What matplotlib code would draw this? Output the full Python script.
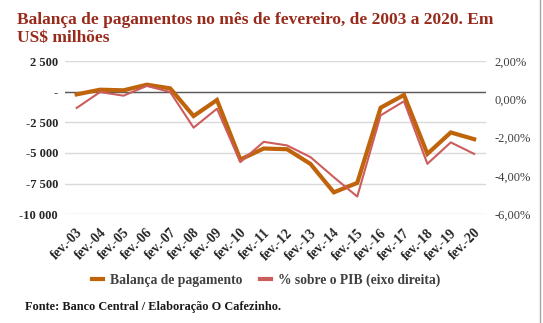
import matplotlib.pyplot as plt
import matplotlib.transforms as mtransforms
from matplotlib.ticker import FuncFormatter

# Data
labels = ['fev.-%02d' % y for y in range(3, 21)]
balanca = [-220, 160, 110, 570, 270, -1990, -680, -5540, -4640, -4700,
           -5900, -8220, -7450, -1310, -270, -5080, -3330, -3880]
pct_pib = [-0.45, 0.38, 0.19, 0.70, 0.38, -1.48, -0.49, -3.28, -2.22, -2.41,
           -3.02, -4.07, -5.08, -0.84, -0.10, -3.37, -2.25, -2.85]

c_bal = '#c0640c'
c_pct = '#cd5c5c'
c_title = '#982a1c'
serif = 'Liberation Serif'

plt.rcParams['font.family'] = serif

fig = plt.figure(figsize=(5.43, 3.23), dpi=100)
ax = fig.add_axes([0.1197, 0.337, 0.775, 0.474])
ax2 = ax.twinx()

x = list(range(len(labels)))
ax.plot(x, balanca, color=c_bal, lw=3.0, solid_joinstyle='miter', zorder=3,
        label='Balança de pagamento')
ax2.plot(x, pct_pib, color=c_pct, lw=1.5, zorder=3,
         label='% sobre o PIB (eixo direita)')

ax.set_xlim(-0.5, len(labels) - 0.5)
ax.set_ylim(-10000, 2500)
ax2.set_ylim(-6, 2)
ax.set_yticks([2500, 0, -2500, -5000, -7500, -10000])
ax2.set_yticks([2, 0, -2, -4, -6])

def fmt_left(v, pos):
    if v == 0:
        return '-'
    s = '{:,.0f}'.format(v).replace(',', ' ')
    return s

ax.yaxis.set_major_formatter(FuncFormatter(fmt_left))
ax2.yaxis.set_major_formatter(FuncFormatter(lambda v, p: ('%.2f%%' % v).replace('.', ',')))

ax.grid(axis='y', color='#d9d9d9', lw=1)
ax.set_axisbelow(True)
ax.axhline(0, color='#595959', lw=1, zorder=2)

for a in (ax, ax2):
    for s in a.spines.values():
        s.set_visible(False)
    a.tick_params(length=0)

ax.set_xticks(x)
ax.set_xticklabels(labels, rotation=45, ha='right', va='center',
                   rotation_mode='anchor', fontsize=9.8, fontweight='bold',
                   color='#262626')
ax.tick_params(axis='x', pad=12)
shift = mtransforms.ScaledTranslation(4 / 100, 0, fig.dpi_scale_trans)
for t in ax.get_xticklabels():
    t.set_transform(t.get_transform() + shift)
for t in ax.get_yticklabels():
    t.set_fontweight('bold')
    t.set_fontsize(9)
    t.set_color('#262626')
ax.tick_params(axis='y', pad=5)
for t in ax2.get_yticklabels():
    t.set_fontsize(9)
    t.set_color('#404040')
ax2.tick_params(axis='y', pad=6)

fig.text(0.031, 0.91, 'Balança de pagamentos no mês de fevereiro, de 2003 a 2020. Em\nUS$ milhões',
         fontsize=12.5, fontweight='bold', color=c_title, va='center', ha='left',
         linespacing=1.15)

h1, l1 = ax.get_legend_handles_labels()
h2, l2 = ax2.get_legend_handles_labels()
leg = fig.legend(h1 + h2, l1 + l2, loc='center', bbox_to_anchor=(0.49, 0.132),
                 ncol=2, frameon=False, handlelength=0.8, handletextpad=0.5,
                 columnspacing=1.3,
                 prop={'family': serif, 'weight': 'bold', 'size': 9.8})
for t in leg.get_texts():
    t.set_color('#404040')
for h in leg.legend_handles:
    h.set_linewidth(3)

fig.text(0.046, 0.05, 'Fonte: Banco Central / Elaboração O Cafezinho.',
         fontsize=8.8, fontweight='bold', color='#1a1a1a', va='center')

# right border line of the original capture
fig.add_artist(plt.Line2D([0.995, 0.995], [0, 1], color='#a6a6a6', lw=1,
                          transform=fig.transFigure))

fig.savefig('out.png', dpi=100)
